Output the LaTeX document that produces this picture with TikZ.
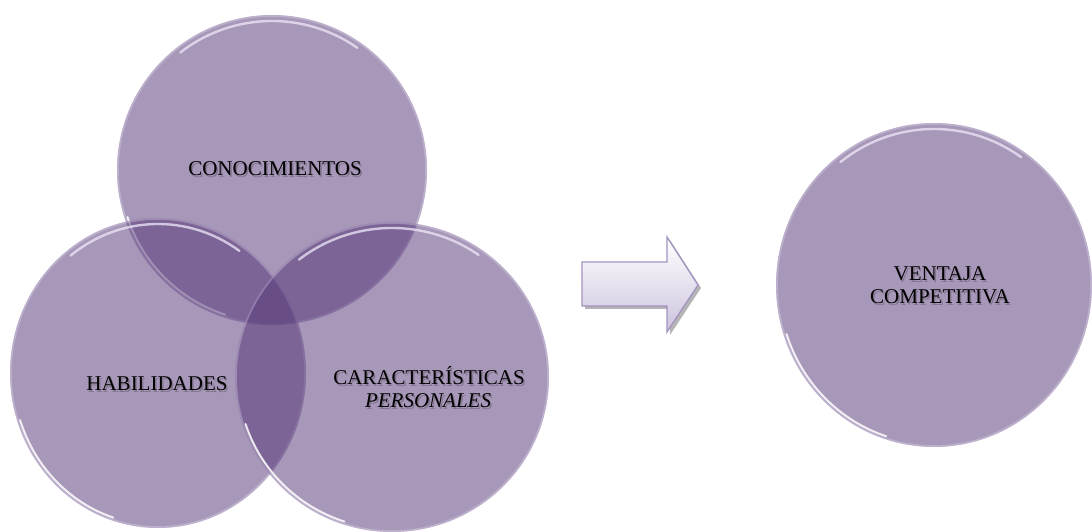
\documentclass[tikz,border=0pt]{standalone}
\usepackage{fontspec}
\setmainfont{Liberation Serif}
\usetikzlibrary{shapes.geometric,calc}

\definecolor{bubble}{RGB}{86,55,119}
\definecolor{rimglow}{RGB}{238,232,250}
\definecolor{arrowedge}{RGB}{163,147,192}
\definecolor{arrowlow}{RGB}{205,195,222}
\definecolor{arrowshadow}{RGB}{150,148,152}

\tikzset{
  bubblefill/.style={ellipse, inner sep=0pt, outer sep=0pt, fill=bubble, fill opacity=0.52},
  rimsoft/.style={draw=rimglow, draw opacity=0.3, line width=1.8pt},
  rimhi/.style={draw=rimglow, draw opacity=0.75, line width=2.4pt, line cap=round},
  lbl/.style={font=\fontsize{21}{23}\selectfont, anchor=base, text=black, inner sep=0pt},
  lblshade/.style={lbl, text=black, text opacity=0.22},
}

% glossy rim of a bubble: #1 node name, #2 x radius, #3 y radius
\newcommand\bubblerim[3]{%
  \pgfmathsetmacro\rxa{#2-0.9}\pgfmathsetmacro\rya{#3-0.9}%
  \pgfmathsetmacro\rxb{#2-6}\pgfmathsetmacro\ryb{#3-6}%
  \pgfmathsetmacro\rxc{#2-3}\pgfmathsetmacro\ryc{#3-3}%
  \draw[rimsoft] (#1.center) ellipse[x radius=\rxa, y radius=\rya];
  \draw[rimhi] ($(#1.center)+(55:\rxb\space and \ryb)$)
    arc[start angle=55, end angle=128, x radius=\rxb, y radius=\ryb];
  \draw[rimhi, draw=white, draw opacity=0.85, line width=2pt]
    ($(#1.center)+(198:\rxc\space and \ryc)$)
    arc[start angle=198, end angle=252, x radius=\rxc, y radius=\ryc];
}

% text with a faint drop shadow: #1 name, #2 position, #3 text
\newcommand\shadowtext[3]{%
  \node[lblshade] at ($#2+(1.5,-1.5)$) {#3};
  \node[lbl] (#1) at #2 {#3};
}

\begin{document}
\begin{tikzpicture}[x=1pt, y=1pt]
  \useasboundingbox (0,0) rectangle (1092,532);

  % three overlapping bubbles
  \node[bubblefill, minimum width=310pt, minimum height=310pt] (kn) at (272,362) {};
  \bubblerim{kn}{155}{155}
  \node[bubblefill, minimum width=296pt, minimum height=310pt] (hb) at (158,159) {};
  \bubblerim{hb}{148}{155}
  \node[bubblefill, minimum width=314pt, minimum height=310pt] (cp) at (392,155) {};
  \bubblerim{cp}{157}{155}

  % result bubble
  \node[bubblefill, minimum width=316pt, minimum height=324pt] (vc) at (934,247) {};
  \bubblerim{vc}{158}{162}

  % block arrow with its shadow
  \fill[arrowshadow, opacity=0.7]
    (585,267) -- (670,267) -- (670,292) -- (701,244) -- (670,197)
    -- (670,223) -- (585,223) -- cycle;
  \path[top color=white, bottom color=arrowlow, draw=arrowedge, line width=1.3pt,
        line join=miter]
    (582,270) -- (667,270) -- (667,295) -- (698,247) -- (667,200)
    -- (667,226) -- (582,226) -- cycle;

  % labels
  \shadowtext{tkn}{(275,356)}{CONOCIMIENTOS}
  \shadowtext{thb}{(157,141)}{HABILIDADES}
  \shadowtext{tcp}{(429,147)}{CARACTERÍSTICAS}
  \shadowtext{tcp2}{(428,124)}{\itshape PERSONALES}
  \shadowtext{tvc}{(940,251)}{VENTAJA}
  \shadowtext{tvc2}{(940,228)}{COMPETITIVA}
\end{tikzpicture}
\end{document}
